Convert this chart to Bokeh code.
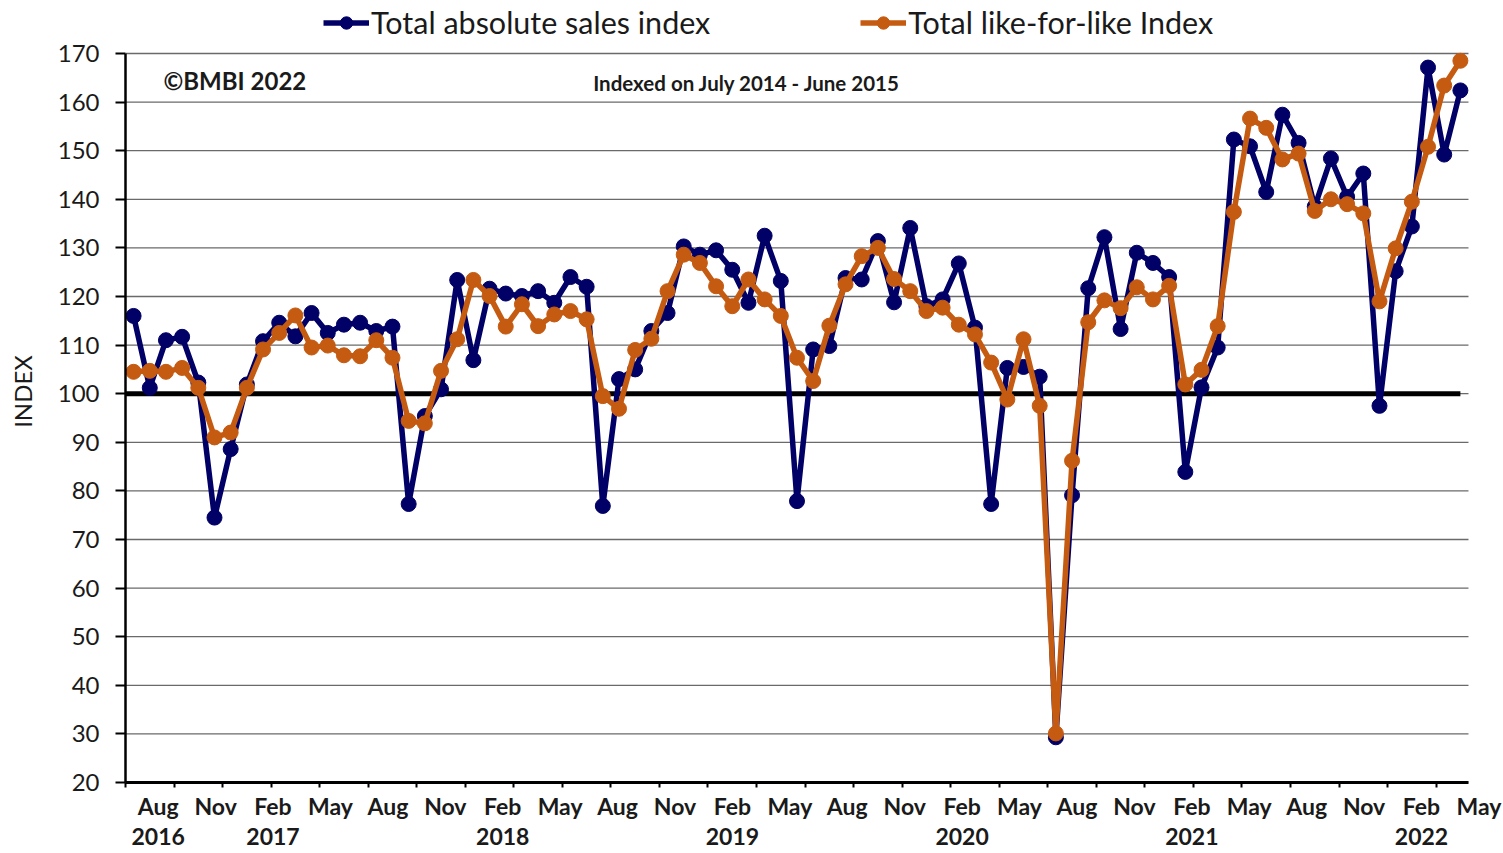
from bokeh.plotting import figure
from bokeh.models import (ColumnDataSource, Legend, LegendItem, FixedTicker,
                          LinearAxis, Label, Range1d)
from bokeh.embed import file_html
from bokeh.resources import INLINE

# ---- data -------------------------------------------------------------
absolute_sales = [116.0, 101.2, 111.0, 111.7, 102.3, 74.5, 88.6, 101.9, 110.8, 114.6,
                  111.8, 116.6, 112.5, 114.2, 114.6, 112.9, 113.8, 77.3, 95.4, 100.9,
                  123.4, 106.9, 121.6, 120.6, 120.1, 121.1, 118.7, 124.0, 122.0, 76.9,
                  103.0, 105.0, 112.9, 116.6, 130.3, 128.6, 129.5, 125.5, 118.7, 132.5,
                  123.2, 77.9, 109.1, 109.8, 123.8, 123.5, 131.4, 118.8, 134.1, 118.0,
                  119.4, 126.8, 113.6, 77.3, 105.3, 105.5, 103.5, 29.3, 79.1, 121.7,
                  132.2, 113.3, 129.0, 126.9, 124.0, 83.9, 101.3, 109.5, 152.3, 150.9,
                  141.5, 157.4, 151.6, 138.5, 148.4, 140.5, 145.3, 97.5, 125.2, 134.4,
                  167.1, 149.2, 162.4]
like_for_like = [104.5, 104.7, 104.5, 105.3, 101.2, 91.0, 92.0, 101.2, 109.1, 112.5,
                 116.1, 109.5, 109.9, 107.9, 107.7, 111.0, 107.4, 94.4, 93.9, 104.7,
                 111.2, 123.4, 120.1, 113.8, 118.4, 113.9, 116.3, 117.0, 115.3, 99.5,
                 96.9, 109.0, 111.3, 121.1, 128.6, 126.9, 122.1, 118.0, 123.5, 119.4,
                 116.0, 107.4, 102.6, 114.0, 122.5, 128.3, 130.0, 123.6, 121.1, 117.0,
                 117.7, 114.2, 112.2, 106.4, 98.8, 111.2, 97.5, 30.1, 86.2, 114.7,
                 119.2, 117.6, 121.9, 119.4, 122.2, 101.9, 104.9, 113.9, 137.4, 156.6,
                 154.7, 148.2, 149.4, 137.6, 140.0, 139.0, 137.1, 119.0, 129.9, 139.5,
                 150.8, 163.4, 168.5]
month_labels = ["Aug", "Nov", "Feb", "May", "Aug", "Nov", "Feb", "May", "Aug", "Nov",
                "Feb", "May", "Aug", "Nov", "Feb", "May", "Aug", "Nov", "Feb", "May",
                "Aug", "Nov", "Feb", "May"]
year_labels = ["2016", "", "2017", "", "", "", "2018", "", "", "",
               "2019", "", "", "", "2020", "", "", "", "2021", "",
               "", "", "2022", ""]
baseline = 100
y_ticks = list(range(20, 171, 10))

FONT = "Lato"
BLUE = "#000066"
ORANGE = "#C55A11"
TXT = "#1a1a1a"

n = len(absolute_sales)
idx = list(range(n))
src = ColumnDataSource(dict(x=idx, a=absolute_sales, l=like_for_like))

# frame extends to the top of the canvas (legend lives there) and a little
# to the right (room for the last axis label); grid/axes are bounded.
p = figure(width=1503, height=853, output_backend="svg", toolbar_location=None,
           x_range=Range1d(-0.5, 84.17), y_range=Range1d(20, 180.9),
           min_border_left=125, min_border_right=8, min_border_top=0,
           min_border_bottom=71)
p.outline_line_color = None
p.background_fill_color = "white"
p.border_fill_color = "white"
p.xgrid.visible = False
p.ygrid.visible = False

# horizontal grid lines limited to the category span
p.segment(x0=[-0.5] * len(y_ticks), x1=[n - 0.5] * len(y_ticks), y0=y_ticks, y1=y_ticks,
          line_color="#6a6a6a", line_width=1.3)

# y axis
p.yaxis.ticker = FixedTicker(ticks=y_ticks)
p.yaxis.bounds = (y_ticks[0], y_ticks[-1])
p.yaxis.major_label_text_font = FONT
p.yaxis.major_label_text_font_size = "24px"
p.yaxis.major_label_text_color = TXT
p.yaxis.major_label_standoff = 16
p.yaxis.major_tick_out = 10
p.yaxis.major_tick_in = 0
p.yaxis.major_tick_line_width = 2
p.yaxis.minor_tick_line_color = None
p.yaxis.axis_line_width = 2.5
p.yaxis.axis_label = "INDEX"
p.yaxis.axis_label_text_font = FONT
p.yaxis.axis_label_text_font_style = "normal"
p.yaxis.axis_label_text_font_size = "24px"
p.yaxis.axis_label_text_color = TXT
p.yaxis.axis_label_standoff = 18

# x axis A: tick marks every 3 categories (between categories)
xt = [i - 0.5 for i in range(0, n + 1, 3)]
p.xaxis.ticker = FixedTicker(ticks=xt)
p.xaxis.bounds = (-0.5, n - 0.5)
p.xaxis.major_label_overrides = {t: "" for t in xt}
p.xaxis.major_label_text_font_size = "0px"
p.xaxis.major_label_standoff = 0
p.xaxis.major_tick_out = 5
p.xaxis.major_tick_in = 0
p.xaxis.major_tick_line_width = 2
p.xaxis.minor_tick_line_color = None
p.xaxis.axis_line_width = 3

# x axis B: month / year labels
lx = [1.52 + 3.549 * k for k in range(len(month_labels))]
overrides = {}
for x, m, y in zip(lx, month_labels, year_labels):
    overrides[x] = m + ("\n" + y if y else "")
lab_axis = LinearAxis(ticker=FixedTicker(ticks=lx), major_label_overrides=overrides,
                      axis_line_color=None, major_tick_line_color=None,
                      minor_tick_line_color=None, major_tick_out=0, major_tick_in=0,
                      major_label_standoff=4, major_label_text_font=FONT,
                      major_label_text_font_style="bold",
                      major_label_text_line_height=1.09,
                      major_label_text_font_size="23px", major_label_text_color=TXT)
p.add_layout(lab_axis, "below")

# 100 reference line
p.line(x=[-1, n - 1], y=[baseline, baseline], line_color="black", line_width=5)

# series
bl = p.line("x", "a", source=src, line_color=BLUE, line_width=5.5)
bc = p.scatter("x", "a", source=src, size=15, fill_color=BLUE, line_color=BLUE)
ol = p.line("x", "l", source=src, line_color=ORANGE, line_width=5.5)
oc = p.scatter("x", "l", source=src, size=15, fill_color=ORANGE, line_color=ORANGE)

# annotations
p.add_layout(Label(x=1.85, y=164.4, text="©BMBI 2022", text_font=FONT,
                   text_font_style="bold", text_font_size="24px",
                   text_baseline="middle", text_color=TXT))
p.add_layout(Label(x=37.9, y=164.0, text="Indexed on July 2014 - June 2015",
                   text_font=FONT, text_font_style="bold", text_font_size="20.5px",
                   text_baseline="middle", text_align="center", text_color=TXT))

legend = Legend(items=[LegendItem(label="Total absolute sales index", renderers=[bl, bc]),
                       LegendItem(label="Total like-for-like Index", renderers=[ol, oc])],
                location=(198, 742), orientation="horizontal",
                label_text_font=FONT, label_text_font_size="30.5px",
                label_text_color=TXT, glyph_width=46, glyph_height=31, label_height=31,
                label_standoff=2, spacing=150, padding=0, margin=0,
                border_line_alpha=0, background_fill_alpha=0)
p.add_layout(legend)

open("out.html", "w").write(file_html(p, INLINE))
